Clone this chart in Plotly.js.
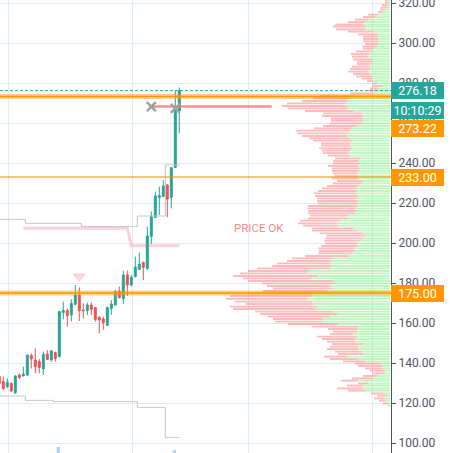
<!DOCTYPE html>
<html>
<head>
<meta charset="utf-8">
<script src="https://cdn.plot.ly/plotly-3.0.1.min.js"></script>
<style>html,body{margin:0;padding:0;background:#fff;}#chart{width:450px;height:453px;}</style>
</head>
<body>
<div id="chart"></div>
<script>
// ---- candles (bar index, OHLC) ----
const candleIdx = [0,1,2,3,4,5,6,7,8,9,10,11,12,13,14,15,16,17,18,19,20,21,22,23,24,25,26,27,28,29,30,31,32,33,34,35,36,37,38,39,40,41,42,43,44,45];
const candleOpen  = [133.3,130.7,128.2,129.8,125.2,134.0,133.5,134.0,143.7,141.5,140.7,137.0,144.5,141.5,145.2,143.2,165.2,166.2,164.0,169.3,174.0,166.5,166.2,169.0,167.7,162.7,162.0,158.8,167.2,169.0,176.0,172.2,184.0,179.0,183.2,186.8,190.2,187.3,203.3,212.7,222.7,223.2,229.0,222.8,237.8,266.0];
const candleHigh  = [134.5,133.2,132.3,130.2,134.0,134.8,138.2,144.0,144.8,147.3,142.0,145.7,146.5,146.5,145.7,165.7,170.7,167.3,171.8,179.0,177.8,169.8,170.2,170.2,167.7,163.5,163.2,168.2,171.5,176.5,178.2,186.2,186.2,184.0,193.2,195.2,190.7,208.2,215.7,225.7,228.2,231.5,229.5,237.8,276.2,277.8];
const candleLow   = [128.8,126.5,127.3,125.7,124.5,131.8,133.3,133.5,137.3,134.8,134.8,134.0,141.5,140.7,140.7,142.8,161.8,158.2,160.7,169.0,161.0,162.3,164.0,164.0,160.7,154.8,156.5,158.5,164.0,169.0,172.3,169.5,173.5,178.2,182.8,186.5,181.5,186.5,199.5,212.5,214.0,223.2,212.8,217.3,237.5,254.8];
const candleClose = [129.8,127.3,130.3,126.0,133.5,132.8,134.5,144.0,142.0,138.2,137.8,144.3,141.8,146.0,142.3,165.7,166.2,163.7,169.8,174.0,166.2,166.2,169.0,166.8,161.8,161.5,160.2,167.7,169.5,175.7,172.7,184.0,179.0,182.8,188.0,189.5,187.8,203.5,213.2,223.5,223.7,228.5,222.0,237.7,266.5,276.18];

// ---- channel lines (step) ----
const upperBand = [211.8,211.8,211.8,211.8,211.8,211.8,211.8,209.8,209.8,209.8,209.8,209.8,209.8,209.8,209.8,209.8,209.8,209.8,209.8,209.8,209.8,208.2,208.2,208.2,208.2,208.2,208.2,208.2,208.2,208.2,208.2,208.2,208.2,208.2,208.2,213.5,213.5,213.5,213.5,213.5,213.5,213.5,239.0,239.0,239.0,239.0];
const lowerBand = [123.5,123.5,123.5,123.5,123.5,123.5,123.5,121.3,121.3,121.3,121.3,121.3,121.3,121.3,120.7,120.7,120.7,120.7,120.7,120.7,120.7,120.7,120.7,120.7,120.7,120.7,120.7,120.7,120.7,120.7,120.7,120.7,120.7,120.7,120.7,117.8,117.8,117.8,117.8,117.8,117.8,117.8,102.8,102.8,102.8,102.8];

// ---- pink stop line ----
const stopIdx = [6,7,8,9,10,11,12,13,14,15,16,17,18,19,20,21,22,23,24,25,26,27,28,29,30,31,32,33,34,35,36,37,38,39,40,41,42,43,44,45];
const stopVal = [207.4,207.4,207.4,207.4,207.4,207.4,207.4,207.4,207.4,207.4,207.4,207.4,207.4,207.4,207.4,207.4,207.4,207.4,207.4,207.4,207.4,207.4,207.4,207.4,207.4,207.4,207.4,198.6,198.6,198.6,198.6,198.6,198.6,198.6,198.6,198.6,198.6,198.6,198.6,198.6];

// ---- signal line / markers ----
const signalIdx = [38, 68.1];
const signalVal = [268.2, 268.2];
const crossIdx = [38, 44];
const crossVal = [268.2, 267.3];
const triIdx = [20];
const triVal = [183.2];
const noteIdx = 64.9, noteVal = 207.5, noteText = "PRICE OK";

// ---- blue bottom bars ----
const blueIdx = [14.75, 43.75];
const blueHeight = [4, 2.5];
const blueBase = 94;

// ---- volume profile ----
const profilePrice = [321.2,320.2,319.0,317.8,316.7,315.5,314.2,313.0,311.7,310.5,
309.2,308.2,306.8,305.7,304.3,303.2,302.0,300.8,299.5,298.3,
297.2,295.8,294.5,293.2,291.8,290.7,289.5,288.2,287.0,285.7,
284.5,283.3,282.2,281.0,279.8,278.5,277.3,276.2,274.8,273.5,
272.3,271.0,269.8,268.5,267.3,266.0,264.8,263.5,262.3,261.2,
259.8,258.5,257.3,256.2,254.8,253.5,252.3,251.2,249.8,248.7,
247.3,246.2,245.0,243.7,242.3,241.0,239.8,238.5,237.3,236.0,
234.8,233.5,232.3,231.0,229.8,228.5,227.3,226.0,224.8,223.5,
222.3,221.0,219.8,218.5,217.3,216.0,214.8,213.7,212.3,211.2,
209.8,208.7,207.3,206.2,204.8,203.7,202.3,201.2,199.8,198.5,
197.3,196.0,194.8,193.5,192.3,191.0,189.8,188.5,187.3,186.0,
184.8,183.5,182.3,181.0,179.8,178.5,177.3,176.0,174.8,173.5,
172.1,170.7,169.5,168.2,167.0,165.7,164.5,163.2,162.0,160.7,
159.5,158.2,157.0,155.7,154.5,153.2,152.0,150.7,149.5,148.2,
147.0,145.7,144.5,143.2,142.0,140.8,139.7,138.5,137.3,136.2,
134.8,133.5,132.3,131.2,129.8,128.7,127.3,126.2,124.8,123.7,
122.3,121.2,119.8,118.5];
const profileUp = [3,2,3,3,5,7,12,15,22,25,
27,25,25,17,12,12,12,12,12,13,
17,18,20,22,18,18,20,20,20,22,
20,18,18,18,13,8,12,14,17,35,
40,43,45,43,42,37,28,27,27,27,
27,33,37,40,42,43,40,38,40,40,
38,40,42,40,30,32,30,32,30,32,
33,32,32,27,28,32,33,33,33,32,
32,33,32,33,35,33,35,42,42,50,
53,52,37,33,27,25,28,30,33,33,
35,35,38,42,57,60,60,58,60,82,
82,73,78,57,55,60,57,63,73,78,
83,78,77,73,75,57,53,60,67,67,
52,32,33,33,37,33,35,35,27,32,
32,28,27,43,33,25,10,8,7,5,
5,13,18,32,22,27,28,25,7,3,
5,5,2,1];
const profileDown = [2,3,5,6,5,5,10,12,13,17,
28,32,29,25,20,15,15,15,13,15,
10,16,19,16,19,15,13,18,20,20,
17,16,10,5,5,10,8,8,23,35,
37,45,58,65,60,48,39,41,32,32,
33,34,39,54,51,45,41,39,29,29,
33,28,25,22,25,25,27,30,28,26,
24,23,26,26,29,31,35,39,43,43,
41,40,40,49,48,49,47,38,40,40,
39,35,41,45,43,39,37,36,32,36,
37,36,34,43,41,43,53,60,73,60,
68,84,69,85,73,63,60,64,69,82,
81,77,67,87,82,78,77,62,50,48,
50,46,29,24,23,40,33,28,31,28,
31,27,25,23,27,22,25,24,18,15,
13,14,20,17,10,16,25,17,12,10,
11,6,5,1];

// ---- price levels / labels ----
const levelPrices = [273.22, 233.00, 175.00];
const levelHalo = [true, false, true];
const lastPrice = 276.18;
const countdown = "10:10:29";
const yTicks = [100,120,140,160,180,200,220,240,260,280,300,320];
const timeGrid = [2.175, 33.175, 62.175, 93.175];

const TEAL = '#26a69a', RED = '#ef5350', ORANGE = '#ff9800';
const FONT = 'Roboto, "Liberation Sans", Arial, sans-serif';

const traces = [
  {type:'scatter', mode:'lines', x:candleIdx, y:upperBand, line:{color:'#c4c4c4', width:1, shape:'hvh'}, hoverinfo:'skip'},
  {type:'scatter', mode:'lines', x:candleIdx, y:lowerBand, line:{color:'#c4c4c4', width:1, shape:'hvh'}, hoverinfo:'skip'},
  {type:'scatter', mode:'lines', x:stopIdx, y:stopVal, line:{color:'rgba(242,54,69,0.22)', width:3}, hoverinfo:'skip'},
  {type:'scatter', mode:'lines', x:signalIdx, y:signalVal, line:{color:'rgba(240,110,110,0.75)', width:2.5}, hoverinfo:'skip'},
  {type:'scatter', mode:'markers', x:crossIdx, y:crossVal, marker:{symbol:'x-thin', size:9, line:{color:'#a0a0a0', width:2.5}}, hoverinfo:'skip'},
  {type:'scatter', mode:'markers', x:triIdx, y:triVal, marker:{symbol:'triangle-down', size:10, color:'rgba(255,160,160,0.35)', line:{color:'rgba(242,80,80,0.25)', width:1}}, hoverinfo:'skip'},
  {type:'bar', x:blueIdx, y:blueHeight, base:blueBase, width:0.8, marker:{color:'rgba(120,180,245,0.6)'}, hoverinfo:'skip'},
  {type:'candlestick', x:candleIdx, open:candleOpen, high:candleHigh, low:candleLow, close:candleClose,
   increasing:{line:{color:TEAL, width:1}, fillcolor:TEAL},
   decreasing:{line:{color:RED, width:1}, fillcolor:RED},
   whiskerwidth:0, hoverinfo:'skip'},
  {type:'bar', orientation:'h', y:profilePrice, x:profileUp, width:0.95, xaxis:'x2', yaxis:'y',
   marker:{color:'rgba(130,240,130,0.5)', line:{width:0}}, hoverinfo:'skip'},
  {type:'bar', orientation:'h', y:profilePrice, x:profileDown, base:profileUp, width:0.95, xaxis:'x2', yaxis:'y',
   marker:{color:'rgba(255,120,120,0.5)', line:{width:0}}, hoverinfo:'skip'}
];

const shapes = [];
levelPrices.forEach((p, i) => {
  if (levelHalo[i]) {
    shapes.push({type:'line', xref:'paper', x0:0, x1:1, yref:'y', y0:p, y1:p, layer:'above', line:{color:'rgba(255,152,0,0.45)', width:5}});
    shapes.push({type:'line', xref:'paper', x0:0, x1:1, yref:'y', y0:p, y1:p, layer:'above', line:{color:ORANGE, width:1.6}});
  } else {
    shapes.push({type:'line', xref:'paper', x0:0, x1:1, yref:'y', y0:p, y1:p, layer:'above', line:{color:'#f08c00', width:1.2}});
  }
});
shapes.push({type:'line', xref:'paper', x0:0, x1:1, yref:'y', y0:lastPrice, y1:lastPrice, layer:'above', line:{color:TEAL, width:1, dash:'3px,2px'}});

function tag(text, y, color, shift) {
  return {xref:'paper', x:1, xanchor:'left', yref:'y', y:y, yanchor:'middle', yshift:shift||0,
    text:text, showarrow:false, bgcolor:color, borderwidth:0, borderpad:2, width:49, height:13,
    align:'center', valign:'middle', font:{family:FONT, size:12.5, color:'#ffffff'}};
}
const annotations = [
  tag(lastPrice.toFixed(2), lastPrice, TEAL, 0),
  tag(countdown, lastPrice, TEAL, -19.5),
  tag(levelPrices[0].toFixed(2), levelPrices[0], ORANGE, -32),
  tag(levelPrices[1].toFixed(2), levelPrices[1], ORANGE, 0),
  tag(levelPrices[2].toFixed(2), levelPrices[2], ORANGE, 0),
  {xref:'x', x:noteIdx, yref:'y', y:noteVal, text:noteText, showarrow:false, xanchor:'center', yanchor:'middle',
   font:{family:FONT, size:11.5, color:'rgba(245,110,110,0.85)'}}
];

const layout = {
  width:450, height:453,
  margin:{l:0, r:59, t:0, b:0, pad:0},
  paper_bgcolor:'#ffffff', plot_bgcolor:'#ffffff',
  showlegend:false, barmode:'overlay', hovermode:false,
  xaxis:{range:[0.175, 97.925], tickvals:timeGrid, showticklabels:false, ticks:'', showgrid:true,
         gridcolor:'#e2ebf1', gridwidth:1, zeroline:false, showline:false, fixedrange:true,
         rangeslider:{visible:false}},
  xaxis2:{overlaying:'x', range:[390, -1], visible:false, showgrid:false, zeroline:false, fixedrange:true},
  yaxis:{side:'right', range:[95, 321.5], tickvals:yTicks, tickformat:'.2f', showgrid:true,
         gridcolor:'#e2ebf1', gridwidth:1, zeroline:false, showline:true, linecolor:'#50535e', linewidth:1,
         ticks:'outside', ticklen:4, tickcolor:'#50535e', tickfont:{family:FONT, size:12, color:'#50535e'},
         ticklabeloverflow:'allow', fixedrange:true},
  shapes:shapes, annotations:annotations
};

Plotly.newPlot('chart', traces, layout, {displayModeBar:false, staticPlot:true});
</script>
</body>
</html>
